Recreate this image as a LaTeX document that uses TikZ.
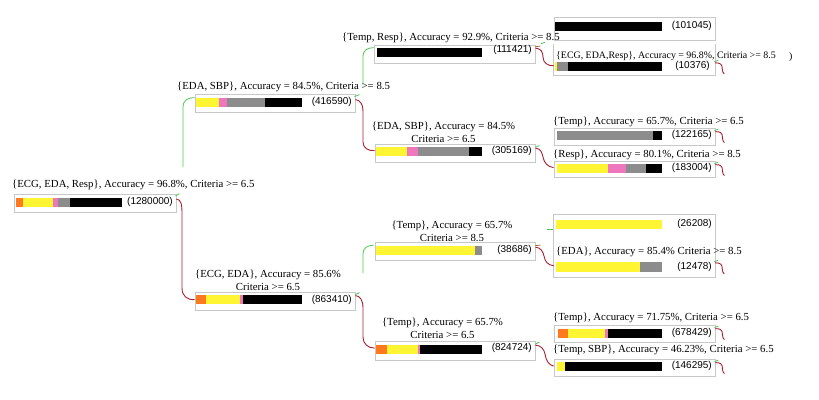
\documentclass[tikz,border=0pt]{standalone}
\usepackage{fontspec}
\setmainfont{Liberation Serif}
\newfontfamily\cntfont{Liberation Sans}
\usetikzlibrary{calc,fit}
\definecolor{cOr}{RGB}{255,122,30}
\definecolor{cYe}{RGB}{255,245,50}
\definecolor{cPk}{RGB}{238,118,188}
\definecolor{cGy}{RGB}{140,140,140}
\definecolor{boxgray}{RGB}{200,200,200}
\definecolor{gcol}{RGB}{80,200,80}
\definecolor{rcol}{RGB}{170,30,50}
\definecolor{bcol}{RGB}{170,100,40}
\newcommand\barseg[5]{\fill[#1] (#2,#3) rectangle (#4,#5);}
\newcommand\leafstub[2]{%
  \draw[gline] ($(#1.north east)+(-1,#2-1)$) -- ($(#1.north east)+(3,#2-2.5)$);
  \draw[rline] ($(#1.north east)+(0,#2)$) .. controls ($(#1.north east)+(6,#2)$) and ($(#1.north east)+(7,#2+2)$) .. ($(#1.north east)+(7,#2+6)$) .. controls ($(#1.north east)+(7,#2+9)$) and ($(#1.north east)+(8,#2+10)$) .. ($(#1.north east)+(9,#2+11)$);}
\begin{document}
\begin{tikzpicture}[x=1pt,y=-1pt,
  boxn/.style={draw=boxgray, line width=0.8pt, inner sep=0pt},
  openbox/.style={draw=none, inner sep=0pt},
  boxline/.style={draw=boxgray, line width=0.8pt},
  ttl/.style={font=\fontsize{10.8}{13}\selectfont, inner sep=0pt, anchor=west},
  ttlsmall/.style={font=\fontsize{9.9}{12}\selectfont, inner sep=0pt, anchor=west},
  ttltwo/.style={font=\fontsize{10.8}{13}\selectfont, inner sep=0pt, align=center},
  cnt/.style={font=\cntfont\fontsize{10}{12}\selectfont, inner sep=0pt, anchor=east},
  gline/.style={draw=gcol, line width=0.8pt},
  rline/.style={draw=rcol, line width=0.9pt},
  bline/.style={draw=bcol, line width=0.8pt}]
\useasboundingbox (0,0) rectangle (819,399);
\fill[white] (0,0) rectangle (819,399);

% ---------- boxes ----------
\node[boxn, fit={(14,194.5) (176,212.5)}] (R) {};
\node[boxn, fit={(195,94.5) (355,112.5)}] (A) {};
\node[boxn, fit={(374,45) (535,63)}] (AA) {};
\node[boxn, fit={(554,17) (715,40)}] (AA1) {};
\node[openbox, fit={(554,44) (715,75)}] (AA2) {};
\draw[boxline] (AA2.north west) |- (AA2.south east) -- (AA2.north east);
\node[boxn, fit={(375,144.5) (535,162)}] (B) {};
\node[boxn, fit={(554,128) (715,145)}] (B1) {};
\node[boxn, fit={(554,161) (715,177)}] (B2) {};
\node[boxn, fit={(195,292) (355,310)}] (C) {};
\node[boxn, fit={(375,242) (535,260)}] (C1) {};
\node[openbox, fit={(554,215) (715,246)}] (C11) {};
\draw[boxline] (C11.south west) |- (C11.north east) -- (C11.south east);
\node[openbox, fit={(554,246) (715,277)}] (C12) {};
\draw[boxline] (C12.north west) |- (C12.south east) -- (C12.north east);
\node[boxn, fit={(375,341) (535,360)}] (D) {};
\node[boxn, fit={(554,325) (715,342)}] (D1) {};
\node[boxn, fit={(554,359) (715,376)}] (D2) {};

% ---------- bars ----------
% R
\barseg{cOr}{16}{197.5}{23}{206.5}
\barseg{cYe}{23}{197.5}{53}{206.5}
\barseg{cPk}{53}{197.5}{58}{206.5}
\barseg{cGy}{58}{197.5}{70}{206.5}
\barseg{black}{70}{197.5}{122}{206.5}
% A
\barseg{cYe}{196}{97.5}{219}{106.5}
\barseg{cPk}{219}{97.5}{227}{106.5}
\barseg{cGy}{227}{97.5}{265}{106.5}
\barseg{black}{265}{97.5}{302}{106.5}
% AA
\barseg{black}{377}{48}{482}{57}
% AA1
\barseg{black}{555}{21.5}{662}{30.5}
% AA2
\barseg{cYe}{555}{62}{556.5}{71}
\barseg{cGy}{556.5}{62}{568}{71}
\barseg{black}{568}{62}{662}{71}
% B
\barseg{cYe}{376}{147}{407}{156}
\barseg{cPk}{407}{147}{418}{156}
\barseg{cGy}{418}{147}{469}{156}
\barseg{black}{469}{147}{482}{156}
% B1
\barseg{cGy}{557}{131}{653}{140}
\barseg{black}{653}{131}{662}{140}
% B2
\barseg{cYe}{557}{164}{608}{173}
\barseg{cPk}{608}{164}{626}{173}
\barseg{cGy}{626}{164}{646}{173}
\barseg{black}{646}{164}{662}{173}
% C
\barseg{cOr}{196}{295}{206}{304}
\barseg{cYe}{206}{295}{240}{304}
\barseg{cPk}{240}{295}{243}{304}
\barseg{black}{243}{295}{302}{304}
% C1
\barseg{cYe}{376}{245.5}{475}{254.5}
\barseg{cGy}{475}{245.5}{482}{254.5}
% C11
\barseg{cYe}{556}{219.5}{662}{228.5}
% C12
\barseg{cYe}{556}{262}{640}{271.5}
\barseg{cGy}{640}{262}{662}{271.5}
% D
\barseg{cOr}{376}{344.5}{387}{353.5}
\barseg{cYe}{387}{344.5}{418}{353.5}
\barseg{cPk}{418}{344.5}{420}{353.5}
\barseg{black}{420}{344.5}{482}{353.5}
% D1
\barseg{cOr}{558}{328.5}{568}{337.5}
\barseg{cYe}{568}{328.5}{605}{337.5}
\barseg{cPk}{605}{328.5}{608}{337.5}
\barseg{black}{608}{328.5}{662}{337.5}
% D2
\barseg{cYe}{557}{362}{565}{371}
\barseg{black}{565}{362}{662}{371}

% ---------- counts ----------
\node[cnt] (nR) at (173,202) {(1280000)};
\node[cnt] (nA) at (352,102) {(416590)};
\node[cnt] (nAA) at (532,50) {(111421)};
\node[cnt] (nAA1) at (712,26) {(101045)};
\node[cnt] (nAA2) at (710,66) {(10376)};
\node[cnt] (nB) at (532,151) {(305169)};
\node[cnt] (nB1) at (712,135) {(122165)};
\node[cnt] (nB2) at (712,168) {(183004)};
\node[cnt] (nC) at (352,300) {(863410)};
\node[cnt] (nC1) at (532,250) {(38686)};
\node[cnt] (nC11) at (712,224) {(26208)};
\node[cnt] (nC12) at (712,267) {(12478)};
\node[cnt] (nD) at (532,348) {(824724)};
\node[cnt] (nD1) at (712,333) {(678429)};
\node[cnt] (nD2) at (712,366) {(146295)};

% ---------- titles ----------
\node[ttl] (tR) at (12,185) {\{ECG, EDA, Resp\}, Accuracy = 96.8\%, Criteria >= 6.5};
\node[ttl] (tA) at (177,87) {\{EDA, SBP\}, Accuracy = 84.5\%, Criteria >= 8.5};
\node[ttl] (tAA) at (342,38) {\{Temp, Resp\}, Accuracy = 92.9\%, Criteria >= 8.5};
\node[ttlsmall] (tAA2) at (556,56) {\{ECG, EDA,Resp\}, Accuracy = 96.8\%, Criteria >= 8.5};
\node[ttlsmall] (tStray) at (789,57) {)};
\node[ttltwo] (tB) at (443.5,132.5) {\{EDA, SBP\}, Accuracy = 84.5\%\\Criteria >= 6.5};
\node[ttl] (tB1) at (553,122) {\{Temp\}, Accuracy = 65.7\%, Criteria >= 6.5};
\node[ttl] (tB2) at (553,155) {\{Resp\}, Accuracy = 80.1\%, Criteria >= 8.5};
\node[ttltwo] (tC) at (268,280.5) {\{ECG, EDA\}, Accuracy = 85.6\%\\Criteria >= 6.5};
\node[ttltwo] (tC1) at (452,231) {\{Temp\}, Accuracy = 65.7\%\\Criteria >= 8.5};
\node[ttl] (tC12) at (556,252) {\{EDA\}, Accuracy = 85.4\% Criteria >= 8.5};
\node[ttltwo] (tD) at (442.5,328) {\{Temp\}, Accuracy = 65.7\%\\Criteria >= 6.5};
\node[ttl] (tD1) at (553,318) {\{Temp\}, Accuracy = 71.75\%, Criteria >= 6.5};
\node[ttl] (tD2) at (553,350) {\{Temp, SBP\}, Accuracy = 46.23\%, Criteria >= 6.5};

% ---------- connectors ----------
% root
\draw[gline] ($(R.north east)+(-1,2)$) -- ($(R.north east)+(3,-0.5)$);
\coordinate (gR) at (183,167);
\draw[gline] (gR) -- (183,108) .. controls (183,100) and (187,98) .. ($(A.north west)+(0,3.5)$);
\draw[rline] ($(R.north east)+(0,5)$) .. controls (181,199.5) and (182,204) .. (182,214) -- (182,288) .. controls (182,296) and (187,300) .. ($(C.north west)+(0,8)$);
% A
\draw[gline] ($(A.north east)+(-1,2.5)$) -- ($(A.north east)+(4,0.5)$);
\coordinate (gA) at (363,85);
\draw[gline] (gA) -- (363,57) .. controls (363,50) and (367,48) .. ($(AA.north west)+(0,3)$);
\draw[rline] ($(A.north east)+(0,5.5)$) .. controls (360,100) and (363,104) .. (363,111) -- (363,142) .. controls (363,148) and (368,151) .. ($(B.north west)+(0,6.5)$);
% AA
\draw[bline] ($(AA.north east)+(0,2)$) -- ($(AA.north east)+(5,1.5)$);
\draw[rline] ($(AA.north east)+(0,3.5)$) .. controls (541,48.5) and (543,52) .. (543,57) .. controls (543,63) and (548,66) .. ($(AA2.north west)+(0,22)$);
\draw[gline] ($(AA2.north west)+(-13,0)$) -- ($(AA2.north west)+(-9,-1.5)$);
% B
\draw[gline] ($(B.north east)+(0,3)$) -- ($(B.north east)+(4,1.5)$);
\draw[rline] ($(B.north east)+(0,4)$) .. controls (541,148.5) and (542,153) .. (543,157) .. controls (544,163) and (548,167) .. ($(B2.north west)+(0,7)$);
% C
\draw[gline] ($(C.north east)+(0,3)$) -- ($(C.north east)+(4,1)$);
\coordinate (gC) at (363,273);
\draw[gline] (gC) -- (363,254) .. controls (363,248) and (367,245.5) .. ($(C1.north west)+(-1,3.5)$);
\draw[rline] ($(C.north east)+(0,4)$) .. controls (360,296) and (363,300) .. (363,308) -- (363,337) .. controls (363,344) and (368,348) .. ($(D.north west)+(0,7.5)$);
% C1
\draw[bline] ($(C1.north east)+(0,4)$) -- ($(C1.north east)+(5,3.5)$);
\draw[rline] ($(C1.north east)+(0,5.5)$) .. controls (541,247.5) and (543,252) .. (544,256) .. controls (545,262) and (548,265) .. ($(C12.north west)+(0,20)$);
\draw[gline] ($(C11.north west)+(-7,15)$) -- ($(C11.north west)+(-1,15)$);
% D
\draw[gline] ($(D.north east)+(0,3.5)$) -- ($(D.north east)+(4,1.5)$);
\draw[rline] ($(D.north east)+(0,4.5)$) .. controls (541,345.5) and (544,349) .. (545,354) .. controls (546,361) and (549,365) .. ($(D2.north west)+(0,7.5)$);
% leaf stubs
\leafstub{AA2}{19}
\leafstub{B1}{4}
\leafstub{B2}{4}
\leafstub{C12}{17}
\leafstub{D1}{4}
\leafstub{D2}{4}
\end{tikzpicture}
\end{document}
